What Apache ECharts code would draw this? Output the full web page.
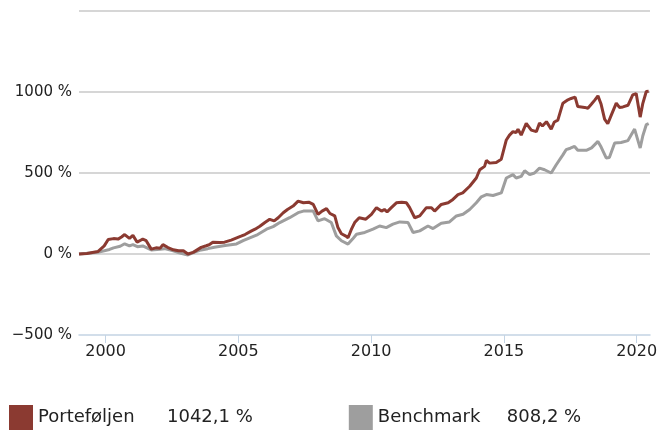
<!DOCTYPE html>
<html>
<head>
<meta charset="utf-8">
<script src="https://cdn.jsdelivr.net/npm/echarts@6/dist/echarts.min.js"></script>
<style>
  html, body { margin: 0; padding: 0; background: #fff; }
  #chart { width: 662px; height: 430px; }
</style>
</head>
<body>
<div id="chart"></div>
<script>
// Porteføljen (decimal year, % return)
var portYears = [1999.0, 1999.3, 1999.71, 1999.95, 2000.1, 2000.15, 2000.3, 2000.47, 2000.6, 2000.72,
  2000.9, 2001.03, 2001.19, 2001.32, 2001.4, 2001.53, 2001.72, 2001.9, 2002.05, 2002.16,
  2002.35, 2002.55, 2002.75, 2002.93, 2003.1, 2003.3, 2003.6, 2003.79, 2003.9, 2004.04,
  2004.3, 2004.48, 2004.73, 2005.1, 2005.25, 2005.48, 2005.63, 2005.81, 2006.0, 2006.18,
  2006.35, 2006.5, 2006.69, 2006.85, 2007.06, 2007.25, 2007.45, 2007.65, 2007.82, 2008.0,
  2008.15, 2008.32, 2008.45, 2008.63, 2008.75, 2008.88, 2009.05, 2009.13, 2009.25, 2009.38,
  2009.55, 2009.8, 2010.01, 2010.2, 2010.39, 2010.5, 2010.6, 2010.76, 2010.95, 2011.15,
  2011.33, 2011.45, 2011.64, 2011.83, 2012.08, 2012.27, 2012.39, 2012.64, 2012.9, 2013.08,
  2013.27, 2013.45, 2013.52, 2013.71, 2013.96, 2014.09, 2014.27, 2014.34, 2014.46, 2014.71,
  2014.9, 2015.09, 2015.21, 2015.34, 2015.46, 2015.53, 2015.65, 2015.84, 2016.03, 2016.22,
  2016.34, 2016.45, 2016.6, 2016.78, 2016.9, 2017.03, 2017.22, 2017.41, 2017.53, 2017.6,
  2017.68, 2017.78, 2018.04, 2018.16, 2018.29, 2018.42, 2018.54, 2018.66, 2018.79, 2018.91,
  2019.05, 2019.23, 2019.35, 2019.48, 2019.67, 2019.85, 2019.98, 2020.13, 2020.23, 2020.36, 2020.45];
var portValues = [0, 3, 15, 50, 90, 100, 95, 92, 105, 120,
  96, 115, 73, 85, 92, 82, 30, 38, 35, 58,
  40, 26, 20, 20, 0, 10, 41, 51, 57, 73,
  71, 73, 86, 110, 120, 141, 153, 171, 194, 214,
  204, 224, 255, 275, 296, 326, 316, 320, 306, 245,
  265, 280, 250, 235, 163, 125, 110, 100, 150, 194,
  224, 215, 245, 286, 265, 275, 260, 286, 316, 320,
  316, 286, 224, 235, 286, 286, 265, 306, 316, 337,
  367, 377, 367, 418, 469, 520, 541, 577, 561, 565,
  585, 704, 734, 755, 750, 770, 734, 806, 765, 755,
  808, 790, 817, 771, 815, 826, 931, 952, 960, 955,
  968, 910, 905, 900, 924, 950, 976, 924, 833, 804,
  860, 931, 905, 908, 918, 982, 990, 845, 930, 1003, 1005];

// Benchmark
var benchYears = [1999.0, 1999.71, 2000.15, 2000.3, 2000.55, 2000.72, 2000.9, 2001.03, 2001.2, 2001.4,
  2001.72, 2002.05, 2002.22, 2002.55, 2002.8, 2003.1, 2003.3, 2003.6, 2003.85, 2004.1,
  2004.5, 2004.93, 2005.2, 2005.73, 2006.06, 2006.31, 2006.56, 2006.93, 2007.25, 2007.45,
  2007.82, 2008.0, 2008.25, 2008.5, 2008.69, 2008.88, 2009.13, 2009.3, 2009.45, 2009.76,
  2010.07, 2010.32, 2010.57, 2010.82, 2011.08, 2011.39, 2011.58, 2011.83, 2012.14, 2012.33,
  2012.64, 2012.95, 2013.21, 2013.46, 2013.71, 2013.96, 2014.15, 2014.34, 2014.59, 2014.9,
  2015.09, 2015.34, 2015.46, 2015.65, 2015.78, 2015.97, 2016.15, 2016.34, 2016.53, 2016.78,
  2016.97, 2017.22, 2017.34, 2017.5, 2017.66, 2017.78, 2018.1, 2018.3, 2018.54, 2018.66,
  2018.85, 2018.97, 2019.17, 2019.41, 2019.67, 2019.92, 2020.13, 2020.23, 2020.36, 2020.45];
var benchValues = [0, 10, 28, 38, 48, 63, 50, 58, 45, 50,
  25, 30, 33, 20, 6, -6, 8, 25, 33, 42,
  52, 62, 84, 120, 153, 169, 194, 224, 255, 265,
  265, 204, 218, 194, 112, 82, 61, 92, 122, 133,
  153, 173, 163, 184, 198, 194, 133, 143, 173, 157,
  190, 198, 235, 245, 275, 316, 353, 367, 361, 377,
  469, 490, 469, 479, 514, 490, 500, 530, 520, 500,
  551, 612, 644, 653, 664, 640, 640, 655, 695, 660,
  593, 595, 685, 688, 700, 771, 654, 730, 798, 805];

var seriesNames = ['Porteføljen', 'Benchmark'];
var totals = ['1042,1 %', '808,2 %'];
var yearTicks = [2000, 2005, 2010, 2015, 2020];

function pairs(xs, ys) {
  var out = [];
  for (var i = 0; i < xs.length; i++) out.push([xs[i], ys[i]]);
  return out;
}

var myChart = echarts.init(document.getElementById('chart'));
var option = {
  animation: false,
  textStyle: { fontFamily: 'DejaVu Sans' },
  grid: { left: 79, right: 12, top: 11, bottom: 95 },
  legend: {
    left: 9,
    top: 405,
    padding: 0,
    icon: 'rect',
    itemWidth: 24,
    itemHeight: 25,
    itemGap: 96,
    selectedMode: false,
    data: seriesNames,
    formatter: function (name) {
      var i = seriesNames.indexOf(name);
      return '{n|' + name + '}{v|' + totals[i] + '}';
    },
    textStyle: {
      color: '#222',
      fontSize: 18,
      rich: {
        n: { fontSize: 18, width: 129, color: '#222' },
        v: { fontSize: 18, color: '#222' }
      }
    }
  },
  xAxis: {
    type: 'value',
    min: 1999.0,
    max: 2020.5,
    splitLine: { show: false },
    axisLine: { onZero: false, lineStyle: { color: '#c4d4e4', width: 1.5 } },
    axisTick: { show: true, length: 8, customValues: yearTicks, lineStyle: { color: '#c4d4e4' } },
    axisLabel: {
      customValues: yearTicks,
      color: '#222',
      fontSize: 16,
      margin: 9,
      formatter: function (v) { return String(v); }
    }
  },
  yAxis: {
    type: 'value',
    min: -500,
    max: 1500,
    interval: 500,
    axisLine: { show: false },
    axisTick: { show: false },
    splitLine: { showMinLine: false, lineStyle: { color: '#c8c8c8', width: 1.5 } },
    axisLabel: {
      color: '#222',
      fontSize: 15,
      margin: 7,
      formatter: function (v) {
        if (v === 1500) return '';
        return (v < 0 ? '\u2212' + Math.abs(v) : v) + ' %';
      }
    }
  },
  series: [
    {
      name: seriesNames[0],
      type: 'line',
      z: 3,
      showSymbol: false,
      color: '#8b3a31',
      lineStyle: { width: 3, color: '#8b3a31' },
      data: pairs(portYears, portValues)
    },
    {
      name: seriesNames[1],
      type: 'line',
      z: 2,
      showSymbol: false,
      color: '#9e9e9e',
      lineStyle: { width: 3, color: '#9e9e9e' },
      data: pairs(benchYears, benchValues)
    }
  ]
};
myChart.setOption(option);
</script>
</body>
</html>
